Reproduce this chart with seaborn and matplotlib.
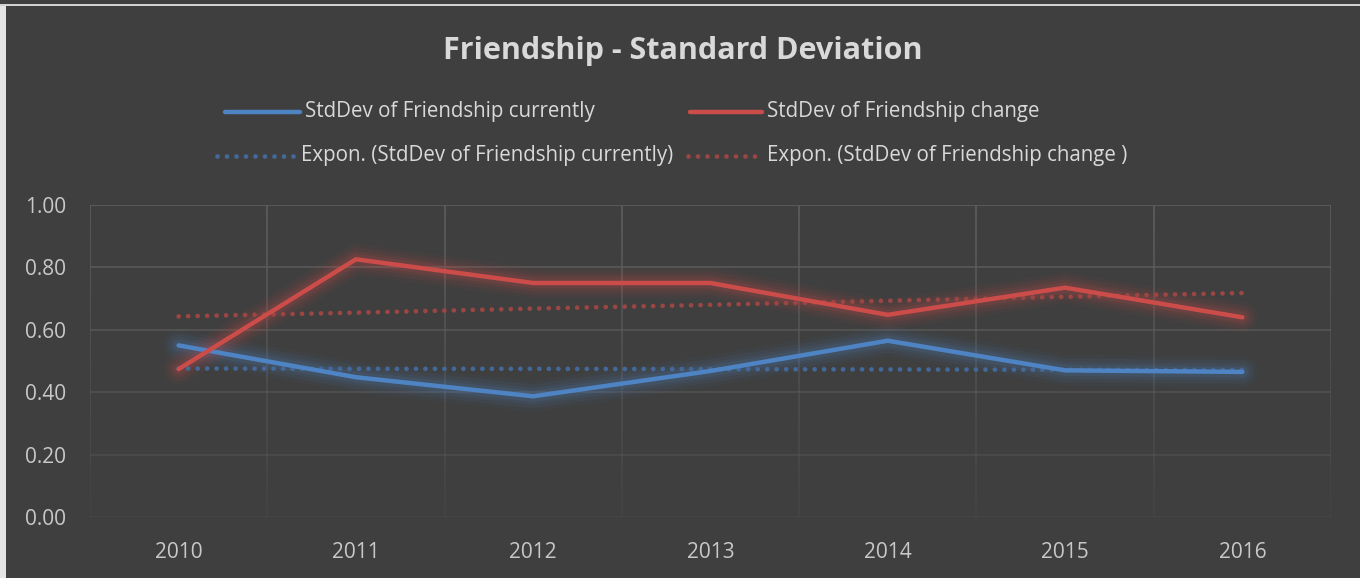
import numpy as np
import pandas as pd
import matplotlib.pyplot as plt
import seaborn as sns
from matplotlib.lines import Line2D
from matplotlib.patches import Rectangle
from matplotlib.collections import LineCollection

# Data
years = ["2010", "2011", "2012", "2013", "2014", "2015", "2016"]
sd_currently = [0.550, 0.448, 0.387, 0.468, 0.565, 0.470, 0.465]
sd_change = [0.474, 0.826, 0.750, 0.750, 0.648, 0.735, 0.640]
trend_currently = [0.476, 0.475, 0.475, 0.474, 0.473, 0.472, 0.471]
trend_change = [0.643, 0.655, 0.668, 0.680, 0.693, 0.706, 0.718]
y_ticks = [0.0, 0.2, 0.4, 0.6, 0.8, 1.0]

df = pd.DataFrame({
    "year": years,
    "currently": sd_currently,
    "change": sd_change,
    "trend_currently": trend_currently,
    "trend_change": trend_change,
})

BG = "#3f3f3f"
BLUE = "#4f84c4"
RED = "#cc4c4a"
BLUE_DOT = "#42699a"
RED_DOT = "#9c4644"
TXT = "#d9d9d9"

sns.set_theme(style="dark")
plt.rcParams["font.family"] = ["Open Sans", "DejaVu Sans"]

W, H = 1360, 578
fig = plt.figure(figsize=(W / 100, H / 100), dpi=100, facecolor=BG)

# window border bits (top line and left strip)
fig.patches.append(Rectangle((0, 1 - 6 / H), 1, 2 / H, transform=fig.transFigure,
                             facecolor="#d0d0d0", edgecolor="none", zorder=0))
fig.patches.append(Rectangle((0, 0), 6 / W, 1 - 6 / H, transform=fig.transFigure,
                             facecolor="#e4e4e4", edgecolor="none", zorder=0))

ax = fig.add_axes([90 / W, 61 / H, 1241 / W, 312 / H])
ax.set_facecolor(BG)
for s in ax.spines.values():
    s.set_visible(False)

# gridlines fading toward the bottom
grid_rgb = np.array([0.37, 0.37, 0.37])
for yv in y_ticks:
    ax.axhline(yv, color=grid_rgb, alpha=0.25 + 0.75 * yv, lw=1.2, zorder=0)
segs, cols = [], []
steps = np.linspace(0, 1, 41)
for k in range(len(years) + 1):
    xv = k - 0.5
    for a, b in zip(steps[:-1], steps[1:]):
        segs.append([(xv, a), (xv, b)])
        cols.append((*grid_rgb, 0.15 + 0.85 * (a + b) / 2))
ax.add_collection(LineCollection(segs, colors=cols, linewidths=1.2, zorder=0))

# glow behind the series
for col, c in [("currently", BLUE), ("change", RED)]:
    for lw, a in [(22, 0.05), (17, 0.07), (12, 0.09), (8, 0.13)]:
        sns.lineplot(data=df, x="year", y=col, ax=ax, color=c, linewidth=lw,
                     alpha=a, errorbar=None, solid_capstyle="round",
                     solid_joinstyle="round", zorder=1)

# trend lines
for col, c in [("trend_currently", BLUE_DOT), ("trend_change", RED_DOT)]:
    sns.lineplot(data=df, x="year", y=col, ax=ax, color=c, linewidth=3.4,
                 linestyle=(0, (0.01, 2.0)), dash_capstyle="round",
                 errorbar=None, zorder=2)

# main series
for col, c in [("currently", BLUE), ("change", RED)]:
    sns.lineplot(data=df, x="year", y=col, ax=ax, color=c, linewidth=3.2,
                 errorbar=None, solid_capstyle="round",
                 solid_joinstyle="round", zorder=3)

ax.set_xlim(-0.5, len(years) - 0.5)
ax.set_ylim(0, 1)
ax.set_yticks(y_ticks)
ax.set_yticklabels([f"{v:.2f}" for v in y_ticks])
ax.set_xlabel("")
ax.set_ylabel("")
ax.grid(False)
ax.tick_params(axis="both", length=0, labelsize=15, colors="#c8c8c8")
ax.tick_params(axis="x", pad=18)
ax.tick_params(axis="y", pad=17)

fig.text(683 / W, 1 - 51 / H, "Friendship - Standard Deviation", ha="center",
         va="center", fontsize=22, fontweight="bold", color=TXT)

# legend, laid out like the original two centred rows
legend_items = [
    (225, 300, 112, BLUE, "-", "StdDev of Friendship currently"),
    (690, 762, 112, RED, "-", "StdDev of Friendship change"),
    (217, 296, 156, BLUE_DOT, "dot", "Expon. (StdDev of Friendship currently)"),
    (688, 762, 156, RED_DOT, "dot", "Expon. (StdDev of Friendship change )"),
]
for x0, x1, yy, c, ls, label in legend_items:
    yf = 1 - yy / H
    if ls == "dot":
        ln = Line2D([x0 / W, x1 / W], [yf, yf], transform=fig.transFigure,
                    color=c, lw=3.4, linestyle=(0, (0.01, 2.0)),
                    dash_capstyle="round")
    else:
        ln = Line2D([x0 / W, x1 / W], [yf, yf], transform=fig.transFigure,
                    color=c, lw=3.2, solid_capstyle="round")
    fig.lines.append(ln)
    fig.text((x1 + 5) / W, yf, label, ha="left", va="center", fontsize=14.8,
             color=TXT)

fig.savefig("out.png", dpi=100, facecolor=BG)
